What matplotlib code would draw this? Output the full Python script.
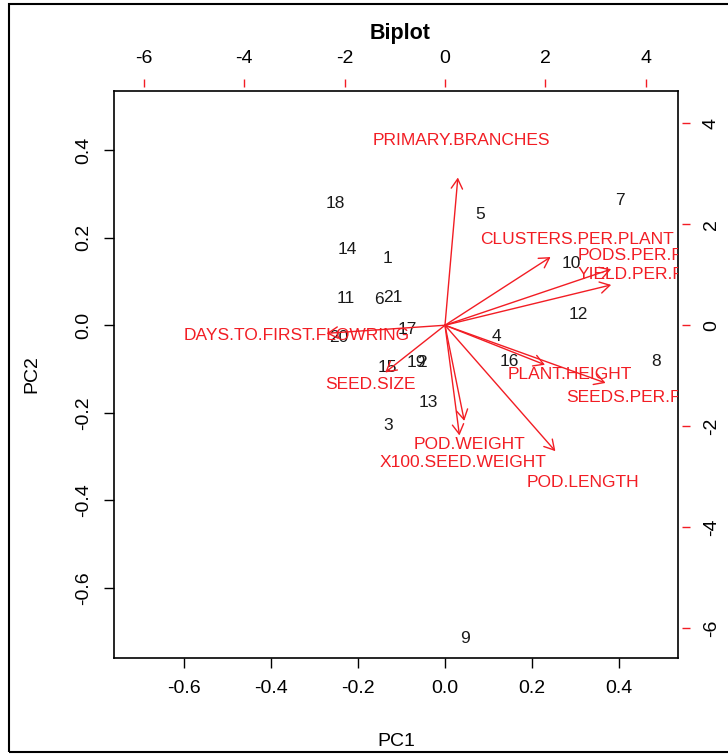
import numpy as np
import matplotlib.pyplot as plt
from matplotlib.patches import Rectangle

plt.rcParams['font.family'] = ['Liberation Sans', 'DejaVu Sans']
plt.rcParams['axes.unicode_minus'] = False

# PCA scores (observations)
obs_ids = [str(i) for i in range(1, 22)]
pc1 = [-0.131, -0.052, -0.131, 0.117, 0.080, -0.151, 0.401, 0.484, 0.046, 0.291,
       -0.227, 0.305, -0.039, -0.225, -0.133, 0.147, -0.087, -0.252, -0.066, -0.243, -0.119]
pc2 = [0.153, -0.085, -0.229, -0.025, 0.252, 0.059, 0.284, -0.082, -0.716, 0.142,
       0.062, 0.025, -0.176, 0.174, -0.096, -0.082, -0.009, 0.277, -0.085, -0.027, 0.064]

# variable loadings
var_names = ['PRIMARY.BRANCHES', 'CLUSTERS.PER.PLANT', 'PODS.PER.PLANT', 'YIELD.PER.PLANT',
             'DAYS.TO.FIRST.FLOWRING', 'SEED.SIZE', 'PLANT.HEIGHT', 'SEEDS.PER.PLANT',
             'POD.WEIGHT', 'X100.SEED.WEIGHT', 'POD.LENGTH']
load1 = [0.32, 2.63, 4.14, 4.14, -2.95, -1.49, 2.49, 4.00, 0.48, 0.36, 2.75]
load2 = [3.66, 1.69, 1.39, 1.00, -0.20, -1.17, -0.98, -1.43, -2.37, -2.73, -3.12]

lims = (-0.76, 0.535)
ratio = 8.68  # scale between loadings and scores
red = '#f21d24'

fig = plt.figure(figsize=(7.28, 7.56), dpi=100)
pos = [114 / 728, 98 / 756, 564 / 728, 567 / 756]

# scores axes (bottom / left)
ax = fig.add_axes(pos)
ax.set_xlim(lims)
ax.set_ylim(lims)
for x, y, s in zip(pc1, pc2, obs_ids):
    ax.text(x, y, s, ha='center', va='center', fontsize=12.5, color='#1a1a1a', clip_on=True)
ax.set_xticks([-0.6, -0.4, -0.2, 0.0, 0.2, 0.4])
ax.set_yticks([-0.6, -0.4, -0.2, 0.0, 0.2, 0.4])
ax.xaxis.set_major_formatter(plt.FormatStrFormatter('%.1f'))
ax.yaxis.set_major_formatter(plt.FormatStrFormatter('%.1f'))
ax.tick_params(direction='out', length=7, width=1, labelsize=14, colors='black')
ax.tick_params(axis='x', pad=9)
ax.tick_params(axis='y', pad=9)
plt.setp(ax.get_yticklabels(), rotation=90, va='center', ha='right')
for sp in ax.spines.values():
    sp.set_linewidth(1.2)

# loadings axes (top / right)
ax2 = fig.add_axes(pos, frameon=True)
ax2.patch.set_visible(False)
ax2.set_xlim(lims[0] * ratio, lims[1] * ratio)
ax2.set_ylim(lims[0] * ratio, lims[1] * ratio)
ax2.xaxis.tick_top()
ax2.yaxis.tick_right()
for name, sp in ax2.spines.items():
    sp.set_color('none')
ax2.spines['top'].set_position(('outward', 3))
ax2.spines['right'].set_position(('outward', 3))
ax2.set_xticks([-6, -4, -2, 0, 2, 4])
ax2.set_yticks([-6, -4, -2, 0, 2, 4])
ax2.tick_params(direction='out', length=6, width=1, labelsize=14, color=red, labelcolor='black')
ax2.tick_params(axis='x', pad=8)
ax2.tick_params(axis='y', pad=9)
plt.setp(ax2.get_yticklabels(), rotation=90, va='center', ha='left')

for name, x, y in zip(var_names, load1, load2):
    ax2.annotate('', xy=(0.8 * x, 0.8 * y), xytext=(0, 0),
                 arrowprops=dict(arrowstyle='->,head_length=0.5,head_width=0.29',
                                 color=red, lw=1, shrinkA=0, shrinkB=0, mutation_scale=14))
    ax2.text(x, y, name, ha='center', va='center', fontsize=12.5, color=red, clip_on=True)

fig.text(400 / 728, 1 - 33 / 756, 'Biplot', ha='center', va='center', fontsize=15.5, fontweight='bold')
fig.text(396 / 728, 1 - 742 / 756, 'PC1', ha='center', va='center', fontsize=14)
fig.text(32 / 728, 1 - 374 / 756, 'PC2', ha='center', va='center', fontsize=14, rotation=90)

# outer frame
fig.patches.append(Rectangle((9 / 728, 4 / 756), 1.0, 748 / 756, transform=fig.transFigure,
                             fill=False, lw=1.5, edgecolor='black'))

fig.savefig('out.png', dpi=100)
